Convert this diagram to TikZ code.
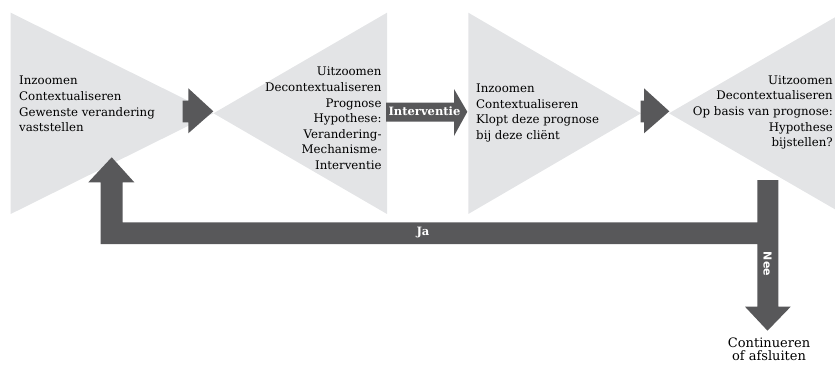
\documentclass[tikz,border=0pt]{standalone}
\usepackage{fontspec}
\setmainfont{DejaVu Serif}
\setsansfont{DejaVu Sans}
\definecolor{tri}{RGB}{227,228,230}
\definecolor{dark}{RGB}{88,88,90}
\begin{document}
\begin{tikzpicture}[x=1pt,y=-1pt,
  txt/.style={font=\fontsize{11.8}{15.6}\selectfont, inner sep=0pt, text=black},
  lbl/.style={font=\fontsize{11.5}{12}\selectfont\bfseries, inner sep=0pt, text=white},
  trishape/.style={fill=tri},
  arrowshape/.style={fill=dark}]
\useasboundingbox (0,0) rectangle (835,364);
% triangles
\coordinate (a1) at (213.5,113.3);
\coordinate (a3) at (641,113.3);
\coordinate (a4) at (669,113.3);
\fill[trishape] (10.7,12.7) -- (a1) -- (10.7,214) -- cycle;
\fill[trishape] (387,12.7) -- (a1) -- (387,214) -- cycle;
\fill[trishape] (468.3,12.7) -- (a3) -- (468.3,214) -- cycle;
\fill[trishape] (835,17.3) -- (a4) -- (835,209.3) -- cycle;
% small arrows
\fill[arrowshape] (182.7,100.7) -- (188.3,100.7) -- (188.3,88.3) -- (213.3,111.3) -- (188.3,133.3) -- (188.3,122.3) -- (182.7,122.3) -- cycle;
\fill[arrowshape] (640.7,100.7) -- (644,100.7) -- (644,88.3) -- (669.3,111.3) -- (644,133.3) -- (644,122.3) -- (640.7,122.3) -- cycle;
% Interventie arrow
\fill[arrowshape] (386,102.7) -- (454,102.7) -- (454,89) -- (467.3,111.8) -- (454,136) -- (454,121.7) -- (386,121.7) -- cycle;
\node[lbl] (iv) at (424.5,111.5) {Interventie};
% feedback arrow
\fill[arrowshape] (111.7,157.3) -- (134.3,182.3) -- (122.7,182.3) -- (122.7,222.3) -- (757.3,222.3) -- (757.3,180) -- (778.3,180) -- (778.3,306.7) -- (790.7,306.7) -- (767.5,330.7) -- (745,306.7) -- (757.3,306.7) -- (757.3,244) -- (100.7,244) -- (100.7,182.3) -- (88.3,182.3) -- cycle;
\node[lbl] (ja) at (423,233) {Ja};
\node[lbl, font=\fontsize{11}{12}\selectfont\sffamily\bfseries, rotate=-90] (nee) at (767.5,264) {Nee};
% texts
\node[txt, anchor=west, align=left] (t1) at (19,104) {Inzoomen\\Contextualiseren\\Gewenste verandering\\vaststellen};
\node[txt, anchor=east, align=right] (t2) at (381.7,118.5) {Uitzoomen\\Decontextualiseren\\Prognose\\Hypothese:\\Verandering-\\Mechanisme-\\Interventie};
\node[txt, anchor=west, align=left] (t3) at (476,113) {Inzoomen\\Contextualiseren\\Klopt deze prognose\\bij deze cliënt};
\node[txt, anchor=east, align=right] (t4) at (833,112.5) {Uitzoomen\\Decontextualiseren\\Op basis van prognose:\\Hypothese\\bijstellen?};
\node[txt, align=center, font=\fontsize{13}{12.5}\selectfont] (t5) at (769,349.5) {Continueren\\of afsluiten};
\end{tikzpicture}
\end{document}
